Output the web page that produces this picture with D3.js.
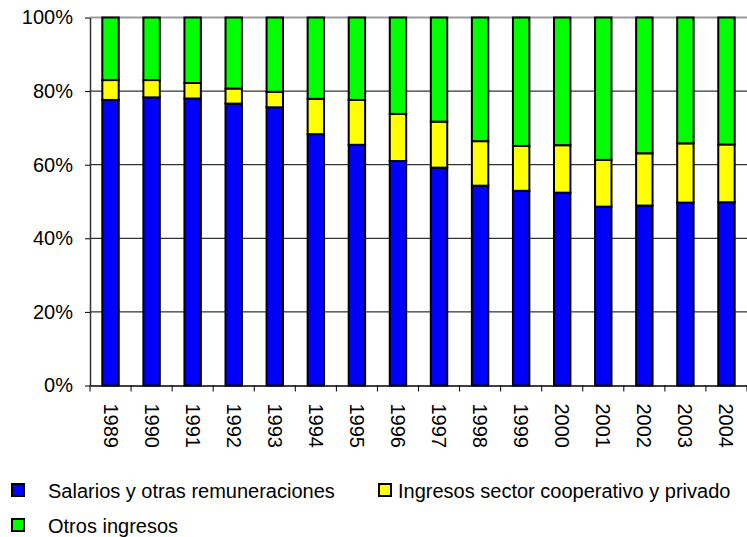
<!DOCTYPE html>
<html>
<head>
<meta charset="utf-8">
<script src="https://cdn.jsdelivr.net/npm/d3@7"></script>
<style>
  body { margin: 0; background: #fff; }
  svg { font-family: "Liberation Sans", Arial, sans-serif; }
</style>
</head>
<body>
<div id="chart-container"></div>
<script>
// years on the x axis
const years = ["1989","1990","1991","1992","1993","1994","1995","1996",
               "1997","1998","1999","2000","2001","2002","2003","2004"];
// share of income (%) per source
const salarios     = [77.6,78.3,78.0,76.6,75.6,68.3,65.4,61.0,59.2,54.3,52.9,52.4,48.6,48.9,49.7,49.8];
const cooperativo  = [5.4,4.7,4.2,4.1,4.2,9.6,12.2,12.8,12.5,12.1,12.2,12.9,12.7,14.2,16.1,15.7];
const otros        = [17.0,17.0,17.8,19.3,20.2,22.1,22.4,26.2,28.3,33.6,34.9,34.7,38.7,36.9,34.2,34.5];
const seriesNames  = ["Salarios y otras remuneraciones", "Ingresos sector cooperativo y privado", "Otros ingresos"];
const yTicks = [0, 20, 40, 60, 80, 100];

const colors = ["#0000ff", "#ffff00", "#00ff00"];
const keys = ["salarios", "cooperativo", "otros"];

const width = 747, height = 537;
const margin = { top: 17.5, right: 0, bottom: 151.5, left: 90 };

// table for d3.stack
const table = years.map((y, i) => ({
  year: y, salarios: salarios[i], cooperativo: cooperativo[i], otros: otros[i]
}));
const stacked = d3.stack().keys(keys)(table);

const svg = d3.select("#chart-container").append("svg")
  .attr("width", width)
  .attr("height", height);

const x = d3.scaleBand()
  .domain(years)
  .range([margin.left, width - margin.right])
  .paddingInner(0.6)
  .paddingOuter(0.3);

const y = d3.scaleLinear()
  .domain([0, 100])
  .range([height - margin.bottom, margin.top]);

// gridlines
svg.append("g")
  .selectAll("line")
  .data(yTicks.filter(d => d > 0 && d < 100))
  .join("line")
    .attr("x1", margin.left)
    .attr("x2", width)
    .attr("y1", d => y(d))
    .attr("y2", d => y(d))
    .attr("stroke", "#000")
    .attr("stroke-width", 1);

// top border of plot area
svg.append("line")
  .attr("x1", margin.left).attr("x2", width)
  .attr("y1", y(100)).attr("y2", y(100))
  .attr("stroke", "#9a9a9a")
  .attr("stroke-width", 2);

// bars
svg.append("g")
  .selectAll("g")
  .data(stacked)
  .join("g")
    .attr("fill", (d, i) => colors[i])
  .selectAll("rect")
  .data(d => d)
  .join("rect")
    .attr("x", d => x(d.data.year))
    .attr("width", x.bandwidth())
    .attr("y", d => y(d[1]))
    .attr("height", d => y(d[0]) - y(d[1]))
    .attr("stroke", "#000")
    .attr("stroke-width", 2);

// y axis
const yAxis = svg.append("g")
  .attr("transform", `translate(${margin.left},0)`)
  .call(d3.axisLeft(y).tickValues(yTicks).tickFormat(d => d + "%").tickSize(5).tickSizeOuter(0));
yAxis.select(".domain").attr("stroke", "#333").attr("stroke-width", 1.5);
yAxis.selectAll(".tick line").attr("stroke", "#000");
yAxis.selectAll("text")
  .attr("x", -17)
  .attr("fill", "#000")
  .style("font-size", "20px")
  .style("font-family", "Liberation Sans, Arial, sans-serif");

// x axis
const xAxis = svg.append("g")
  .attr("transform", `translate(0,${y(0)})`)
  .call(d3.axisBottom(x).tickSize(0).tickSizeOuter(0));
xAxis.select(".domain").attr("stroke", "#000").attr("stroke-width", 1.5);
xAxis.selectAll("text")
  .attr("y", 0)
  .attr("x", 18)
  .attr("dy", "0.35em")
  .attr("transform", "rotate(90)")
  .style("text-anchor", "start")
  .attr("fill", "#000")
  .style("font-size", "20px")
  .style("font-family", "Liberation Sans, Arial, sans-serif");

// category boundary ticks
const bounds = years.map(d => x(d) + x.bandwidth() / 2 - x.step() / 2)
  .concat([x(years[years.length - 1]) + x.bandwidth() / 2 + x.step() / 2]);
xAxis.append("g")
  .selectAll("line")
  .data(bounds)
  .join("line")
    .attr("x1", d => d).attr("x2", d => d)
    .attr("y1", 0).attr("y2", 6)
    .attr("stroke", "#000");

// legend
const legendPos = [[12, 484], [379, 484], [12, 519]];
const legend = svg.append("g")
  .selectAll("g")
  .data(seriesNames)
  .join("g")
    .attr("transform", (d, i) => `translate(${legendPos[i][0]},${legendPos[i][1]})`);
legend.append("rect")
  .attr("width", 12).attr("height", 12)
  .attr("fill", (d, i) => colors[i])
  .attr("stroke", "#000")
  .attr("stroke-width", 2);
legend.append("text")
  .attr("x", (d, i) => i === 1 ? 19 : 36)
  .attr("y", 13.5)
  .style("font-size", "20px")
  .text(d => d);
</script>
</body>
</html>
